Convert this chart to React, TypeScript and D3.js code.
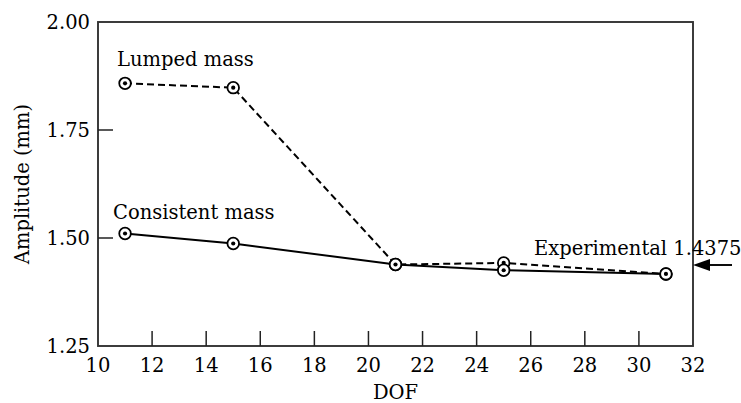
import { scaleLinear, line } from "d3";

const dof = [11, 15, 21, 25, 31];
const lumpedMass = [1.858, 1.848, 1.4386, 1.4423, 1.4168];
const consistentMass = [1.5104, 1.4873, 1.4386, 1.4254, 1.4168];
const experimental = 1.4375;
const xTicks = [10, 12, 14, 16, 18, 20, 22, 24, 26, 28, 30, 32];
const yTicks = [1.25, 1.5, 1.75, 2.0];

const W = 741;
const H = 403;
const margin = { top: 22, right: 48, bottom: 57, left: 98 };
const font = "'DejaVu Serif', serif";

function Marker({ cx, cy }: { cx: number; cy: number }) {
  return (
    <g>
      <circle cx={cx} cy={cy} r={5.8} fill="#fff" stroke="#000" strokeWidth={1.8} />
      <circle cx={cx} cy={cy} r={2.1} fill="#000" />
    </g>
  );
}

export default function App() {
  const x = scaleLinear().domain([10, 32]).range([margin.left, W - margin.right]);
  const y = scaleLinear().domain([1.25, 2.0]).range([H - margin.bottom, margin.top]);
  const [x0, x1] = x.range();
  const [y0, y1] = y.range();

  const path = line<number>()
    .x((_, i) => x(dof[i]))
    .y((d) => y(d));

  const ey = y(experimental);

  return (
    <svg
      width={W}
      height={H}
      style={{ position: "absolute", left: 0, top: 0, background: "#fff" }}
      fontFamily={font}
    >
      {/* frame */}
      <rect x={x0} y={y1} width={x1 - x0} height={y0 - y1} fill="none" stroke="#333" strokeWidth={1.9} />

      {/* x ticks */}
      {xTicks.map((t) => (
        <g key={`x-${t}`}>
          {t !== 10 && t !== 32 && (
            <line x1={x(t)} x2={x(t)} y1={y0} y2={y0 - 15} stroke="#222" strokeWidth={1.5} />
          )}
          <text x={x(t)} y={y0 + 26} textAnchor="middle" fontSize={19.5}>
            {t}
          </text>
        </g>
      ))}

      {/* y ticks */}
      {yTicks.map((t) => (
        <g key={`y-${t}`}>
          {t !== 1.25 && t !== 2.0 && (
            <line x1={x0} x2={x0 + 15} y1={y(t)} y2={y(t)} stroke="#222" strokeWidth={1.5} />
          )}
          <text x={x0 - 8} y={y(t) + 7} textAnchor="end" fontSize={19.5}>
            {t.toFixed(2)}
          </text>
        </g>
      ))}

      {/* axis titles */}
      <text x={(x0 + x1) / 2} y={399} textAnchor="middle" fontSize={19.5}>
        DOF
      </text>
      <text
        transform={`translate(29, ${(y0 + y1) / 2}) rotate(-90)`}
        textAnchor="middle"
        fontSize={19.5}
      >
        Amplitude (mm)
      </text>

      {/* series */}
      <path d={path(lumpedMass) ?? ""} fill="none" stroke="#000" strokeWidth={2} strokeDasharray="7,4" />
      <path d={path(consistentMass) ?? ""} fill="none" stroke="#000" strokeWidth={2} />
      {lumpedMass.map((v, i) => (
        <Marker key={`l-${i}`} cx={x(dof[i])} cy={y(v)} />
      ))}
      {consistentMass.map((v, i) => (
        <Marker key={`c-${i}`} cx={x(dof[i])} cy={y(v)} />
      ))}

      {/* labels */}
      <text x={117} y={66} fontSize={19.5}>
        Lumped mass
      </text>
      <text x={113} y={219} fontSize={19.5}>
        Consistent mass
      </text>
      <text x={534} y={255} fontSize={19.5}>
        Experimental 1.4375
      </text>

      {/* experimental arrow */}
      <line x1={x1 + 16} x2={x1 + 39} y1={ey} y2={ey} stroke="#000" strokeWidth={1.9} />
      <polygon points={`${x1},${ey} ${x1 + 17},${ey - 6} ${x1 + 17},${ey + 6}`} fill="#000" />
    </svg>
  );
}
